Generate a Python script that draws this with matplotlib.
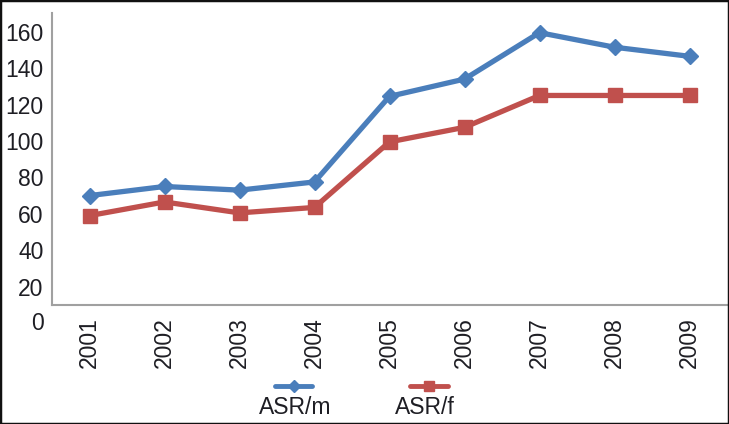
import matplotlib
matplotlib.use('Agg')
import matplotlib.pyplot as plt
from matplotlib.lines import Line2D
from matplotlib.patches import Rectangle
from matplotlib.transforms import offset_copy

years = ['2001', '2002', '2003', '2004', '2005', '2006', '2007', '2008', '2009']
asr_m = [70, 75, 73, 77.5, 124.5, 134, 159.5, 151.5, 146.5]
asr_f = [59, 66.5, 60.5, 63.5, 99.5, 107.5, 125, 125, 125]
y_ticks = [0, 20, 40, 60, 80, 100, 120, 140, 160]

blue = '#4a7ebb'
red = '#c0504d'
axis_grey = '#a0a0a0'
text_col = '#1e1e24'

plt.rcParams['font.family'] = ['Liberation Sans', 'DejaVu Sans']

fig = plt.figure(figsize=(7.29, 4.24), dpi=100)
ax = fig.add_axes([52 / 729, 1 - 305 / 424, 675 / 729, 292 / 424])

x = list(range(len(years)))
ax.plot(x, asr_m, color=blue, lw=3.8, marker='D', ms=8, solid_joinstyle='round')
ax.plot(x, asr_f, color=red, lw=3.8, marker='s', ms=9.5, solid_joinstyle='round')

ax.set_xlim(-0.5, len(years) - 0.5)
ax.set_ylim(9.9, 170.3)
ax.set_xticks(x)
ax.set_xticklabels(years, rotation=90)
ax.set_yticks([t for t in y_ticks if t > 0])
ax.tick_params(length=0, labelsize=16.5, labelcolor=text_col)
ax.tick_params(axis='y', pad=6)
ax.tick_params(axis='x', pad=9)

# the zero label sits below the axis line in the original
zero_tf = offset_copy(ax.get_yaxis_transform(), fig=fig, x=-6, y=0, units='points')
ax.text(0, 0, '0', transform=zero_tf, ha='right', va='center',
        fontsize=16.5, color=text_col, clip_on=False)

for side in ['top', 'right']:
    ax.spines[side].set_visible(False)
for side in ['left', 'bottom']:
    ax.spines[side].set_color(axis_grey)
    ax.spines[side].set_linewidth(1.5)

# legend: symbol above label
def legend_item(x0, x1, xt, label, color, marker, ms):
    y_sym = 1 - 386 / 424
    fig.add_artist(Line2D([x0 / 729, x1 / 729], [y_sym, y_sym], transform=fig.transFigure,
                          color=color, lw=3.5, solid_capstyle='round'))
    fig.add_artist(Line2D([(x0 + x1) / 2 / 729], [y_sym], transform=fig.transFigure,
                          color=color, marker=marker, ms=ms, lw=0))
    fig.text(xt / 729, 1 - 408 / 424, label, ha='left', va='center',
             fontsize=16.5, color=text_col)

legend_item(275, 312, 259, 'ASR/m', blue, 'D', 6)
legend_item(410, 448, 395, 'ASR/f', red, 's', 7.5)

fig.add_artist(Rectangle((0, 0), 1, 1, transform=fig.transFigure, fill=False,
                         edgecolor='#111111', lw=2.5))

fig.savefig('out.png', dpi=100)
